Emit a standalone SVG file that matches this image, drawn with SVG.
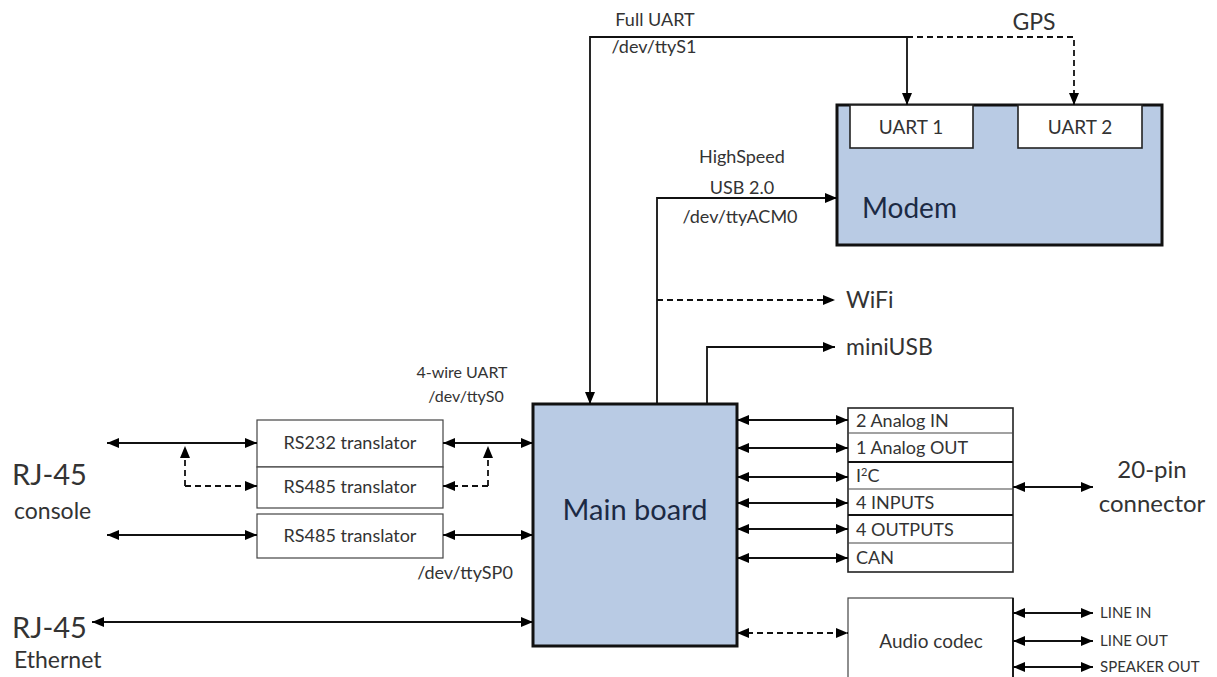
<svg xmlns="http://www.w3.org/2000/svg" width="1217" height="677" viewBox="0 0 1217 677">
<defs>
<marker id="ah" markerUnits="userSpaceOnUse" markerWidth="12" markerHeight="11" refX="12" refY="5.5" orient="auto-start-reverse" viewBox="0 0 12 11">
<path d="M0,0.5 L12,5.5 L0,10.5 z" fill="#000"/>
</marker>
<style>
text{font-family:Lato,"Liberation Sans",sans-serif;fill:#333}
.ln{fill:none;stroke:#111;stroke-width:1.8}
.ds{fill:none;stroke:#111;stroke-width:1.8;stroke-dasharray:6,4}
.a{marker-end:url(#ah)}
.b{marker-start:url(#ah);marker-end:url(#ah)}
.big{fill:#b9cbe4;stroke:#111;stroke-width:3}
.box{fill:#fff;stroke:#444;stroke-width:1.2}
.ubox{fill:#fff;stroke:#222;stroke-width:1.6}
.lbl{font-size:18px}
.mid{font-size:23px}
.t18{font-size:18px}
.navy{fill:#1c2a44}
</style>
</defs>
<rect width="1217" height="677" fill="#fff"/>

<g id="modem">
<rect class="big" x="837" y="105" width="325" height="140"/>
<rect class="ubox" x="850" y="105" width="123" height="43"/>
<text font-size="19" x="911" y="134" text-anchor="middle">UART 1</text>
<rect class="ubox" x="1018" y="105" width="124" height="43"/>
<text font-size="19" x="1080" y="134" text-anchor="middle">UART 2</text>
<text class="navy" x="862" y="218" font-size="28">Modem</text>
</g>

<g id="mainboard">
<rect class="big" x="533" y="404" width="204" height="242"/>
<text class="navy" x="635" y="520" font-size="29" text-anchor="middle">Main board</text>
</g>

<g id="translators">
<rect class="box" x="257" y="420" width="186" height="47"/>
<text class="t18" x="350" y="449" text-anchor="middle">RS232 translator</text>
<rect class="box" x="257" y="467" width="186" height="41"/>
<text class="t18" x="350" y="493" text-anchor="middle">RS485 translator</text>
<rect class="box" x="257" y="514" width="186" height="44"/>
<text class="t18" x="350" y="542" text-anchor="middle">RS485 translator</text>
</g>

<g id="io">
<rect class="ubox" x="848" y="408" width="165" height="164"/>
<line class="box" x1="848" y1="433" x2="1013" y2="433"/>
<line class="ln" x1="848" y1="462" x2="1013" y2="462"/>
<line class="box" x1="848" y1="489" x2="1013" y2="489"/>
<line class="ln" x1="848" y1="515" x2="1013" y2="515"/>
<line class="box" x1="848" y1="543" x2="1013" y2="543"/>
<text class="t18" x="856" y="427">2 Analog IN</text>
<text class="t18" x="856" y="454">1 Analog OUT</text>
<text class="t18" x="856" y="482">I<tspan font-size="11" dy="-6">2</tspan><tspan dy="6">C</tspan></text>
<text class="t18" x="856" y="509">4 INPUTS</text>
<text class="t18" x="856" y="536">4 OUTPUTS</text>
<text class="t18" x="856" y="564">CAN</text>
</g>

<g id="audio">
<rect class="box" x="848" y="598" width="165" height="90"/>
<line class="ln" x1="1013" y1="598" x2="1013" y2="677"/>
<text font-size="19" x="931" y="648" text-anchor="middle">Audio codec</text>
</g>

<g id="labels">
<text class="lbl" x="655" y="26" text-anchor="middle">Full UART</text>
<text class="lbl" x="654" y="53" text-anchor="middle">/dev/ttyS1</text>
<text class="mid" x="1034" y="30" text-anchor="middle">GPS</text>
<text class="lbl" x="742" y="163" text-anchor="middle">HighSpeed</text>
<text class="lbl" x="742" y="194" text-anchor="middle">USB 2.0</text>
<text class="lbl" x="740" y="223" text-anchor="middle">/dev/ttyACM0</text>
<text class="mid" x="846" y="308">WiFi</text>
<text class="mid" x="846" y="355">miniUSB</text>
<text font-size="16" x="462" y="378" text-anchor="middle">4-wire UART</text>
<text font-size="16" x="466" y="402" text-anchor="middle">/dev/ttyS0</text>
<text class="lbl" x="465" y="579" text-anchor="middle">/dev/ttySP0</text>
<text x="12" y="485" font-size="29">RJ-45</text>
<text x="14" y="519" font-size="23">console</text>
<text x="12" y="638" font-size="29">RJ-45</text>
<text x="14" y="668" font-size="23">Ethernet</text>
<text x="1152" y="478" font-size="24" text-anchor="middle">20-pin</text>
<text x="1152" y="512" font-size="24" text-anchor="middle">connector</text>
<text x="1100" y="618" font-size="15">LINE IN</text>
<text x="1100" y="646" font-size="15">LINE OUT</text>
<text x="1100" y="672" font-size="15">SPEAKER OUT</text>
</g>

<g id="connectors">
<path class="ln a" d="M907,37 H590 V404"/>
<path class="ln a" d="M907,37 V105"/>
<path class="ds a" d="M907,37 H1074 V105"/>
<path class="ln a" d="M657,404 V198 H837"/>
<path class="ds a" d="M657,300 H835"/>
<path class="ln a" d="M707,404 V347 H835"/>
<path class="ln b" d="M107,443 H257"/>
<path class="ln b" d="M443,443 H533"/>
<path class="ds a" d="M185,486 V446"/>
<path class="ds a" d="M185,486 H257"/>
<path class="ds a" d="M488,486 V446"/>
<path class="ds a" d="M488,486 H443"/>
<path class="ln b" d="M107,535 H257"/>
<path class="ln b" d="M443,535 H533"/>
<path class="ln b" d="M92,622 H533"/>
<path class="ln b" d="M737,420 H848"/>
<path class="ln b" d="M737,448 H848"/>
<path class="ln b" d="M737,477 H848"/>
<path class="ln b" d="M737,503 H848"/>
<path class="ln b" d="M737,529 H848"/>
<path class="ln b" d="M737,558 H848"/>
<path class="ln b" d="M1013,487 H1093"/>
<path class="ds b" d="M737,633 H848"/>
<path class="ln b" d="M1013,613 H1093"/>
<path class="ln b" d="M1013,641 H1093"/>
<path class="ln b" d="M1013,667 H1093"/>
</g>
</svg>
